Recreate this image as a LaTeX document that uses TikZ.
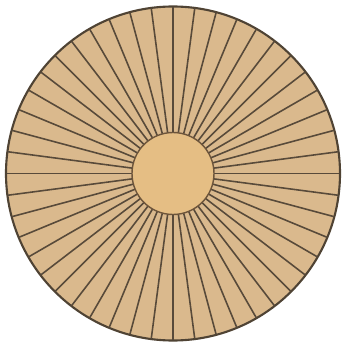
\documentclass[tikz,border=0pt]{standalone}
\usepackage{tikz}
\usetikzlibrary{calc}
\definecolor{woodtan}{RGB}{218,185,141}
\definecolor{piththan}{RGB}{229,190,132}
\definecolor{rayline}{RGB}{88,74,58}

\begin{document}
\begin{tikzpicture}[
    x=0.01cm, y=0.01cm,
    disc/.style={fill=woodtan, draw=rayline!90!black, line width=0.6pt},
    ray/.style={draw=rayline, line width=0.45pt},
    pith/.style={fill=piththan, draw=rayline!80!brown, line width=0.4pt},
  ]
    \useasboundingbox (0,0) rectangle (342,342);
    \coordinate (c) at (173,168.5);
    \fill[white] (0,0) rectangle (342,342);
    \draw[disc] (c) circle (167);
    % radial lines every 7.5 degrees
    \foreach \a in {0,7.5,...,352.5}
      \draw[ray] ($(c)+(\a:41)$) -- ($(c)+(\a:166.5)$);
    \draw[pith] (c) circle (41);
  \end{tikzpicture}
\end{document}
